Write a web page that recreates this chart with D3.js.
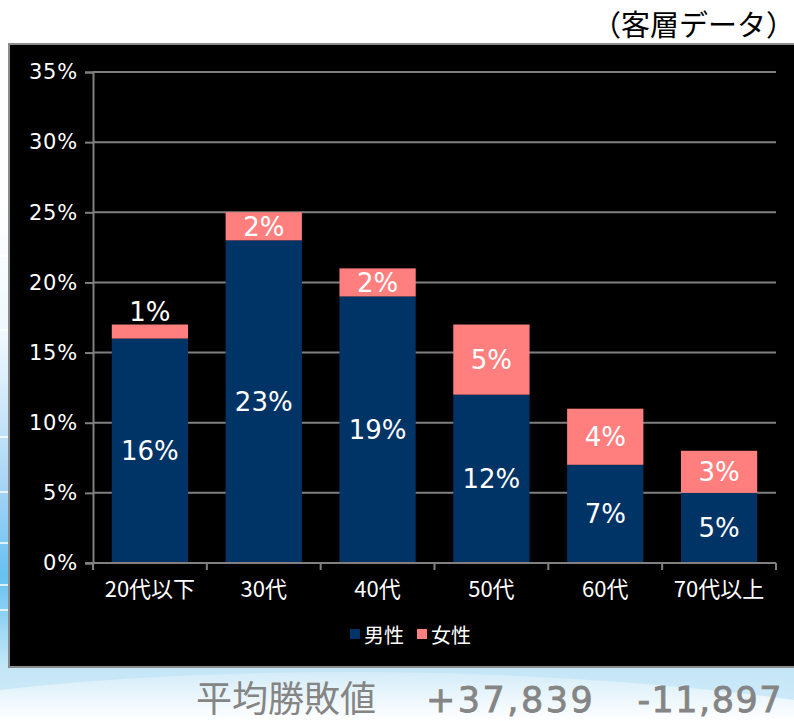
<!DOCTYPE html>
<html>
<head>
<meta charset="utf-8">
<script src="https://cdn.jsdelivr.net/npm/d3@7"></script>
<style>
body{margin:0;padding:0;background:#fff;overflow:hidden;}
svg{display:block;font-family:"Noto Sans CJK JP","Noto Sans",sans-serif;}
</style>
</head>
<body>
<svg id="chart"></svg>
<script>
// data
var categories=["20代以下","30代","40代","50代","60代","70代以上"];
var male=[16,23,19,12,7,5];
var female=[1,2,2,5,4,3];
var seriesNames=["男性","女性"];
var yTicks=[0,5,10,15,20,25,30,35];
var title="（客層データ）";
var footerLabel="平均勝敗値";
var footerValues=["+37,839","-11,897"];

var W=794,H=721;
var margin={left:93,right:18,top:72,bottom:158};
var colors=["#003366","#ff7f7f"];
var numFont="'DejaVu Sans','Noto Sans',sans-serif";

var svg=d3.select("#chart").attr("width",W).attr("height",H);

// slide-ish background
var defs=svg.append("defs");
var g1=defs.append("linearGradient").attr("id","sideBg").attr("x1",0).attr("y1",0).attr("x2",0).attr("y2",1);
g1.append("stop").attr("offset","0%").attr("stop-color","#ffffff");
g1.append("stop").attr("offset","30%").attr("stop-color","#eef8fd");
g1.append("stop").attr("offset","60%").attr("stop-color","#a9d6f5");
g1.append("stop").attr("offset","80%").attr("stop-color","#66c1f0");
g1.append("stop").attr("offset","100%").attr("stop-color","#c8e9f8");
var g2=defs.append("linearGradient").attr("id","bottomBg").attr("x1",0).attr("y1",0).attr("x2",0).attr("y2",1);
g2.append("stop").attr("offset","0%").attr("stop-color","#cfeaf8");
g2.append("stop").attr("offset","45%").attr("stop-color","#e6f4fb");
g2.append("stop").attr("offset","100%").attr("stop-color","#ffffff");

svg.append("rect").attr("x",0).attr("y",0).attr("width",W).attr("height",H).attr("fill","#fff");
svg.append("rect").attr("x",0).attr("y",200).attr("width",12).attr("height",470).attr("fill","url(#sideBg)");
svg.append("rect").attr("x",0).attr("y",667).attr("width",W).attr("height",54).attr("fill","url(#bottomBg)");
svg.append("path")
   .attr("d","M0,690 C150,672 350,668 520,676 C640,682 720,690 794,700 L794,667 L0,667 Z")
   .attr("fill","#bfe4f7").attr("opacity",0.7);
[256,330,437,492,543,585,610].forEach(function(y){
  svg.append("line").attr("x1",0).attr("x2",10).attr("y1",y).attr("y2",y)
     .attr("stroke","#fff").attr("stroke-width",1.5);
});

// title
svg.append("text").attr("x",795).attr("y",36).attr("text-anchor","end")
   .attr("font-size",29).attr("fill","#000").text(title);

// chart box
svg.append("rect").attr("x",9).attr("y",44).attr("width",W).attr("height",623)
   .attr("fill","#000").attr("stroke","#8c8c8c").attr("stroke-width",2);

var plotW=W-margin.left-margin.right;
var plotH=H-margin.top-margin.bottom;

var x=d3.scaleBand().domain(categories).range([margin.left,margin.left+plotW]).paddingInner(0.33).paddingOuter(0.165);
var y=d3.scaleLinear().domain([0,35]).range([margin.top+plotH,margin.top]);

// gridlines
svg.append("g").selectAll("line").data(yTicks.filter(function(d){return d>0;})).enter()
   .append("line")
   .attr("x1",margin.left).attr("x2",margin.left+plotW)
   .attr("y1",function(d){return y(d);}).attr("y2",function(d){return y(d);})
   .attr("stroke","#808080").attr("stroke-width",2);

// stacked data
var rows=categories.map(function(c,i){return {cat:c,male:male[i],female:female[i]};});
var stack=d3.stack().keys(["male","female"])(rows);

var layers=svg.append("g").selectAll("g").data(stack).enter()
   .append("g").attr("fill",function(d,i){return colors[i];});
layers.selectAll("rect").data(function(d){return d;}).enter()
   .append("rect")
   .attr("x",function(d){return x(d.data.cat);})
   .attr("width",x.bandwidth())
   .attr("y",function(d){return y(d[1]);})
   .attr("height",function(d){return y(d[0])-y(d[1]);});

// value labels
var labelG=svg.append("g").attr("fill","#fff").attr("font-size",26).attr("text-anchor","middle")
   .attr("font-family",numFont);
stack.forEach(function(layer){
  layer.forEach(function(d){
    var v=d[1]-d[0];
    var h=y(d[0])-y(d[1]);
    var cy=h<24 ? y(d[1])-13 : (y(d[0])+y(d[1]))/2;
    labelG.append("text")
      .attr("x",x(d.data.cat)+x.bandwidth()/2)
      .attr("y",cy).attr("dy","0.36em")
      .text(v+"%");
  });
});

// axes
var yAxis=d3.axisLeft(y).tickValues(yTicks).tickSize(8).tickPadding(7).tickFormat(function(d){return d+"%";});
var ya=svg.append("g").attr("transform","translate("+margin.left+",0)").call(yAxis);
ya.select(".domain").attr("stroke","#808080").attr("stroke-width",2);
ya.selectAll(".tick line").attr("stroke","#808080").attr("stroke-width",2);
ya.selectAll(".tick text").attr("fill","#fff").attr("font-size",21)
  .attr("font-family",numFont).attr("letter-spacing",0.8);

var xTickScale=d3.scaleLinear().domain([0,categories.length]).range([margin.left,margin.left+plotW]);
var xa=svg.append("g").attr("transform","translate(0,"+(margin.top+plotH)+")");
xa.append("line").attr("x1",margin.left-8).attr("x2",margin.left+plotW)
  .attr("stroke","#808080").attr("stroke-width",2);
xa.selectAll("line.tk").data(d3.range(categories.length+1)).enter()
  .append("line").attr("class","tk")
  .attr("x1",function(d){return xTickScale(d);}).attr("x2",function(d){return xTickScale(d);})
  .attr("y1",0).attr("y2",7).attr("stroke","#808080").attr("stroke-width",2);
xa.selectAll("text").data(categories).enter()
  .append("text")
  .attr("x",function(d){return x(d)+x.bandwidth()/2;})
  .attr("y",34).attr("text-anchor","middle")
  .attr("fill","#fff").attr("font-size",22).text(function(d){return d;});

// legend
var legend=svg.append("g").attr("transform","translate(350,636)");
var lx=0;
seriesNames.forEach(function(n,i){
  legend.append("rect").attr("x",lx).attr("y",-7).attr("width",10).attr("height",10).attr("fill",colors[i]);
  legend.append("text").attr("x",lx+14).attr("y",0).attr("dy","0.35em")
    .attr("fill","#fff").attr("font-size",20).text(n);
  lx+=67;
});

// footer
var foot=svg.append("g").attr("fill","#858585").attr("font-size",36);
foot.append("text").attr("x",196).attr("y",712).text(footerLabel);
foot.append("text").attr("x",426).attr("y",712).attr("font-family",numFont).attr("font-size",35)
  .attr("letter-spacing",2.5).attr("stroke","#858585").attr("stroke-width",0.8).text(footerValues[0]);
foot.append("text").attr("x",783).attr("y",712).attr("text-anchor","end")
  .attr("font-family",numFont).attr("font-size",35).attr("letter-spacing",1.5)
  .attr("stroke","#858585").attr("stroke-width",0.8).text(footerValues[1]);
</script>
</body>
</html>
